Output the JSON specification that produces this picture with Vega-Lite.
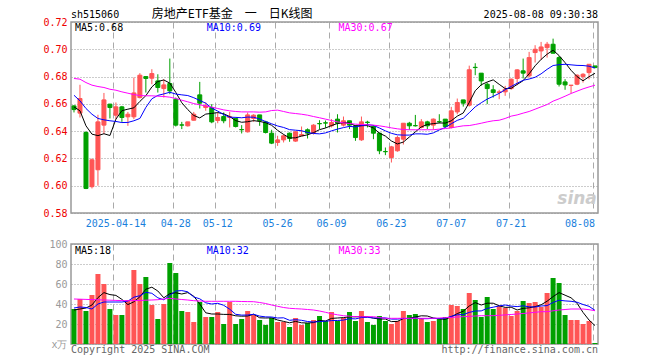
{
"$schema": "https://vega.github.io/schema/vega-lite/v6.json",
"background": "white",
"padding": {"left": 42, "top": 7, "right": 0, "bottom": 0},
"spacing": 9,
"config": {"view": {"stroke": "#999999", "strokeWidth": 1.5}, "axis": {"labelOverlap": false}},
"datasets": {"k": [
{"d":"2025-04-02","o":0.6585,"h":0.659,"l":0.6537,"c":0.6558,"v":35,"m5":0.6578,"m10":0.6663,"m30":0.6786,"vm5":34,"vm10":36,"vm30":45},
{"d":"2025-04-03","o":0.6532,"h":0.674,"l":0.65,"c":0.6639,"v":45,"m5":0.6549,"m10":0.6622,"m30":0.6781,"vm5":35,"vm10":37,"vm30":44.8},
{"d":"2025-04-07","o":0.639,"h":0.64,"l":0.5975,"c":0.598,"v":33,"m5":0.6439,"m10":0.6566,"m30":0.6756,"vm5":36,"vm10":36.5,"vm30":44.6},
{"d":"2025-04-08","o":0.5993,"h":0.62,"l":0.598,"c":0.619,"v":49,"m5":0.6378,"m10":0.6524,"m30":0.6737,"vm5":39,"vm10":35,"vm30":44.4},
{"d":"2025-04-09","o":0.6117,"h":0.652,"l":0.6,"c":0.6468,"v":70,"m5":0.6367,"m10":0.6493,"m30":0.6727,"vm5":46.4,"vm10":40,"vm30":44.2},
{"d":"2025-04-10","o":0.6444,"h":0.668,"l":0.638,"c":0.6629,"v":60,"m5":0.6381,"m10":0.6483,"m30":0.672,"vm5":51.4,"vm10":42,"vm30":44},
{"d":"2025-04-11","o":0.6598,"h":0.66,"l":0.6493,"c":0.6573,"v":35,"m5":0.6368,"m10":0.6476,"m30":0.6707,"vm5":49.4,"vm10":42,"vm30":43.8},
{"d":"2025-04-14","o":0.6517,"h":0.661,"l":0.6488,"c":0.6578,"v":29,"m5":0.6488,"m10":0.6471,"m30":0.67,"vm5":48.6,"vm10":42,"vm30":43.6},
{"d":"2025-04-15","o":0.6578,"h":0.6585,"l":0.6468,"c":0.65,"v":29,"m5":0.655,"m10":0.6463,"m30":0.6688,"vm5":44.6,"vm10":42,"vm30":43.4},
{"d":"2025-04-16","o":0.6505,"h":0.6541,"l":0.6439,"c":0.6524,"v":44,"m5":0.6561,"m10":0.6464,"m30":0.6678,"vm5":39.4,"vm10":42.9,"vm30":43.3},
{"d":"2025-04-17","o":0.6505,"h":0.6793,"l":0.6488,"c":0.668,"v":74,"m5":0.6571,"m10":0.6476,"m30":0.6668,"vm5":42.2,"vm10":46.8,"vm30":43.4},
{"d":"2025-04-18","o":0.6646,"h":0.6825,"l":0.664,"c":0.681,"v":60,"m5":0.6618,"m10":0.6493,"m30":0.6661,"vm5":47.2,"vm10":48.3,"vm30":43.5},
{"d":"2025-04-21","o":0.68,"h":0.68,"l":0.6683,"c":0.6786,"v":67,"m5":0.666,"m10":0.6574,"m30":0.6659,"vm5":54.8,"vm10":51.7,"vm30":43.8},
{"d":"2025-04-22","o":0.6788,"h":0.6854,"l":0.6744,"c":0.6822,"v":39,"m5":0.6724,"m10":0.6637,"m30":0.6659,"vm5":56.8,"vm10":50.7,"vm30":44},
{"d":"2025-04-23","o":0.6768,"h":0.6817,"l":0.6683,"c":0.672,"v":25,"m5":0.6764,"m10":0.6662,"m30":0.6656,"vm5":53,"vm10":46.2,"vm30":44.3},
{"d":"2025-04-24","o":0.6712,"h":0.678,"l":0.6646,"c":0.6739,"v":40,"m5":0.6775,"m10":0.6673,"m30":0.6654,"vm5":46.2,"vm10":44.2,"vm30":45},
{"d":"2025-04-25","o":0.6749,"h":0.6932,"l":0.6671,"c":0.6695,"v":81,"m5":0.6752,"m10":0.6685,"m30":0.6649,"vm5":50.4,"vm10":48.8,"vm30":45.7},
{"d":"2025-04-28","o":0.6634,"h":0.6646,"l":0.6434,"c":0.6444,"v":71,"m5":0.6684,"m10":0.6672,"m30":0.6639,"vm5":51.2,"vm10":53,"vm30":45},
{"d":"2025-04-29","o":0.6446,"h":0.6468,"l":0.6415,"c":0.6444,"v":33,"m5":0.6608,"m10":0.6666,"m30":0.6627,"vm5":50,"vm10":53.4,"vm30":44.5},
{"d":"2025-04-30","o":0.6439,"h":0.6468,"l":0.6434,"c":0.6468,"v":32,"m5":0.6558,"m10":0.6661,"m30":0.6615,"vm5":51.4,"vm10":52.2,"vm30":44},
{"d":"2025-05-06","o":0.648,"h":0.6541,"l":0.6478,"c":0.6524,"v":22,"m5":0.6515,"m10":0.6645,"m30":0.6602,"vm5":47.8,"vm10":47,"vm30":43.3},
{"d":"2025-05-07","o":0.6666,"h":0.6761,"l":0.6566,"c":0.6605,"v":42,"m5":0.6497,"m10":0.6625,"m30":0.6593,"vm5":40,"vm10":45.2,"vm30":43},
{"d":"2025-05-08","o":0.6573,"h":0.661,"l":0.6549,"c":0.6585,"v":27,"m5":0.6525,"m10":0.6605,"m30":0.6585,"vm5":31.2,"vm10":41.2,"vm30":42.7},
{"d":"2025-05-09","o":0.6573,"h":0.6598,"l":0.6458,"c":0.6468,"v":27,"m5":0.653,"m10":0.6569,"m30":0.6576,"vm5":30,"vm10":40,"vm30":42.7},
{"d":"2025-05-12","o":0.6478,"h":0.6537,"l":0.6458,"c":0.65,"v":32,"m5":0.6536,"m10":0.6547,"m30":0.6566,"vm5":30,"vm10":40.7,"vm30":42.7},
{"d":"2025-05-13","o":0.6507,"h":0.6537,"l":0.6458,"c":0.6476,"v":20,"m5":0.6527,"m10":0.6521,"m30":0.6556,"vm5":29.6,"vm10":38.7,"vm30":42.7},
{"d":"2025-05-14","o":0.65,"h":0.6541,"l":0.6427,"c":0.6507,"v":42,"m5":0.6507,"m10":0.6502,"m30":0.6549,"vm5":29.6,"vm10":34.8,"vm30":42.7},
{"d":"2025-05-15","o":0.6493,"h":0.65,"l":0.6427,"c":0.6434,"v":20,"m5":0.6477,"m10":0.6501,"m30":0.6544,"vm5":28.2,"vm10":29.7,"vm30":42.7},
{"d":"2025-05-16","o":0.6412,"h":0.6444,"l":0.6383,"c":0.641,"v":25,"m5":0.6465,"m10":0.6498,"m30":0.6541,"vm5":27.8,"vm10":28.9,"vm30":42.5},
{"d":"2025-05-19","o":0.6395,"h":0.6537,"l":0.639,"c":0.6519,"v":33,"m5":0.6469,"m10":0.6503,"m30":0.6541,"vm5":28,"vm10":29,"vm30":42.4},
{"d":"2025-05-20","o":0.6493,"h":0.6524,"l":0.6468,"c":0.6517,"v":29,"m5":0.6477,"m10":0.6502,"m30":0.6541,"vm5":29.8,"vm10":29.7,"vm30":42.3},
{"d":"2025-05-21","o":0.6519,"h":0.6519,"l":0.6439,"c":0.6476,"v":24,"m5":0.6471,"m10":0.6489,"m30":0.6539,"vm5":26.2,"vm10":27.9,"vm30":41.5},
{"d":"2025-05-22","o":0.6468,"h":0.6476,"l":0.6383,"c":0.639,"v":19,"m5":0.6462,"m10":0.647,"m30":0.6541,"vm5":26,"vm10":27.1,"vm30":40.5},
{"d":"2025-05-23","o":0.6385,"h":0.641,"l":0.6305,"c":0.6312,"v":26,"m5":0.6443,"m10":0.6454,"m30":0.6551,"vm5":26.2,"vm10":27,"vm30":39},
{"d":"2025-05-26","o":0.6317,"h":0.6366,"l":0.6292,"c":0.6336,"v":22,"m5":0.6406,"m10":0.6438,"m30":0.6554,"vm5":24,"vm10":26,"vm30":37.7},
{"d":"2025-05-27","o":0.6336,"h":0.6375,"l":0.6317,"c":0.6366,"v":22,"m5":0.6376,"m10":0.6427,"m30":0.6544,"vm5":22.6,"vm10":26.2,"vm30":36.5},
{"d":"2025-05-28","o":0.6385,"h":0.639,"l":0.6322,"c":0.6346,"v":17,"m5":0.635,"m10":0.6411,"m30":0.6534,"vm5":21.2,"vm10":23.7,"vm30":35.7},
{"d":"2025-05-29","o":0.6327,"h":0.64,"l":0.6322,"c":0.6395,"v":26,"m5":0.6351,"m10":0.6407,"m30":0.6529,"vm5":22.6,"vm10":24.3,"vm30":35.3},
{"d":"2025-05-30","o":0.6366,"h":0.6434,"l":0.6366,"c":0.6375,"v":19,"m5":0.6364,"m10":0.6403,"m30":0.6524,"vm5":21.2,"vm10":23.7,"vm30":35},
{"d":"2025-06-03","o":0.641,"h":0.642,"l":0.6346,"c":0.6385,"v":21,"m5":0.6373,"m10":0.639,"m30":0.6517,"vm5":21,"vm10":22.5,"vm30":34.5},
{"d":"2025-06-04","o":0.6385,"h":0.6451,"l":0.6375,"c":0.6444,"v":24,"m5":0.6389,"m10":0.6383,"m30":0.6507,"vm5":21.4,"vm10":22,"vm30":34},
{"d":"2025-06-05","o":0.6456,"h":0.648,"l":0.6415,"c":0.6454,"v":28,"m5":0.6411,"m10":0.638,"m30":0.6498,"vm5":23.6,"vm10":22.4,"vm30":33},
{"d":"2025-06-06","o":0.6461,"h":0.6478,"l":0.6424,"c":0.6459,"v":23,"m5":0.6423,"m10":0.6387,"m30":0.6488,"vm5":23,"vm10":22.8,"vm30":31.7},
{"d":"2025-06-09","o":0.6439,"h":0.6488,"l":0.6427,"c":0.6463,"v":32,"m5":0.6441,"m10":0.6402,"m30":0.6478,"vm5":25.6,"vm10":23.4,"vm30":30.3},
{"d":"2025-06-10","o":0.6488,"h":0.6524,"l":0.639,"c":0.6458,"v":23,"m5":0.6456,"m10":0.6415,"m30":0.6468,"vm5":26,"vm10":23.5,"vm30":29.2},
{"d":"2025-06-11","o":0.6444,"h":0.6507,"l":0.6434,"c":0.6476,"v":26,"m5":0.6462,"m10":0.6426,"m30":0.6461,"vm5":26.4,"vm10":23.9,"vm30":28.3},
{"d":"2025-06-12","o":0.6476,"h":0.6476,"l":0.6415,"c":0.6444,"v":32,"m5":0.646,"m10":0.6435,"m30":0.6456,"vm5":27.2,"vm10":25.4,"vm30":27.8},
{"d":"2025-06-13","o":0.6439,"h":0.6444,"l":0.6329,"c":0.6353,"v":23,"m5":0.6439,"m10":0.6431,"m30":0.6451,"vm5":27.2,"vm10":25.1,"vm30":27.3},
{"d":"2025-06-16","o":0.6336,"h":0.6507,"l":0.6329,"c":0.6468,"v":33,"m5":0.644,"m10":0.644,"m30":0.6449,"vm5":27.4,"vm10":26.5,"vm30":27.3},
{"d":"2025-06-17","o":0.6466,"h":0.6476,"l":0.6427,"c":0.6463,"v":22,"m5":0.6441,"m10":0.6448,"m30":0.6446,"vm5":27.2,"vm10":26.6,"vm30":27.3},
{"d":"2025-06-18","o":0.6434,"h":0.6444,"l":0.6341,"c":0.6385,"v":19,"m5":0.6423,"m10":0.6442,"m30":0.6444,"vm5":25.8,"vm10":26.1,"vm30":27.3},
{"d":"2025-06-19","o":0.6385,"h":0.639,"l":0.6231,"c":0.6256,"v":28,"m5":0.6385,"m10":0.6423,"m30":0.6439,"vm5":25,"vm10":26.1,"vm30":26.5},
{"d":"2025-06-20","o":0.6251,"h":0.628,"l":0.6224,"c":0.6249,"v":23,"m5":0.6364,"m10":0.6402,"m30":0.6432,"vm5":25,"vm10":26.1,"vm30":25.7},
{"d":"2025-06-23","o":0.6207,"h":0.6292,"l":0.617,"c":0.6285,"v":20,"m5":0.6328,"m10":0.6384,"m30":0.6424,"vm5":22.4,"vm10":24.9,"vm30":25.7},
{"d":"2025-06-24","o":0.6256,"h":0.6366,"l":0.6249,"c":0.6353,"v":23,"m5":0.6306,"m10":0.6373,"m30":0.6417,"vm5":22.6,"vm10":24.9,"vm30":25.7},
{"d":"2025-06-25","o":0.6341,"h":0.6458,"l":0.6302,"c":0.6458,"v":33,"m5":0.632,"m10":0.6371,"m30":0.6412,"vm5":25.4,"vm10":25.6,"vm30":25.7},
{"d":"2025-06-26","o":0.6458,"h":0.6468,"l":0.641,"c":0.6439,"v":29,"m5":0.6357,"m10":0.6371,"m30":0.641,"vm5":25.6,"vm10":25.3,"vm30":25.7},
{"d":"2025-06-27","o":0.6441,"h":0.6519,"l":0.6434,"c":0.6439,"v":30,"m5":0.6395,"m10":0.638,"m30":0.641,"vm5":27,"vm10":26,"vm30":25.7},
{"d":"2025-06-30","o":0.6427,"h":0.6488,"l":0.642,"c":0.6468,"v":26,"m5":0.6431,"m10":0.638,"m30":0.641,"vm5":28.2,"vm10":25.3,"vm30":25.7},
{"d":"2025-07-01","o":0.6468,"h":0.6476,"l":0.6415,"c":0.6439,"v":22,"m5":0.6449,"m10":0.6377,"m30":0.641,"vm5":28,"vm10":25.3,"vm30":25.7},
{"d":"2025-07-02","o":0.6444,"h":0.6493,"l":0.641,"c":0.6488,"v":23,"m5":0.6455,"m10":0.6387,"m30":0.641,"vm5":26,"vm10":25.7,"vm30":25.7},
{"d":"2025-07-03","o":0.647,"h":0.6524,"l":0.6458,"c":0.6468,"v":25,"m5":0.646,"m10":0.6409,"m30":0.6415,"vm5":25.2,"vm10":25.4,"vm30":26},
{"d":"2025-07-04","o":0.6488,"h":0.6488,"l":0.6427,"c":0.6434,"v":27,"m5":0.6459,"m10":0.6427,"m30":0.6419,"vm5":24.6,"vm10":25.8,"vm30":26.3},
{"d":"2025-07-07","o":0.6427,"h":0.6578,"l":0.642,"c":0.6549,"v":39,"m5":0.6476,"m10":0.6454,"m30":0.6424,"vm5":27.2,"vm10":27.7,"vm30":26.6},
{"d":"2025-07-08","o":0.6541,"h":0.6639,"l":0.6524,"c":0.661,"v":38,"m5":0.651,"m10":0.6479,"m30":0.6432,"vm5":30.4,"vm10":29.2,"vm30":27},
{"d":"2025-07-09","o":0.6629,"h":0.6629,"l":0.658,"c":0.6605,"v":35,"m5":0.6533,"m10":0.6494,"m30":0.6439,"vm5":32.8,"vm10":29.4,"vm30":27.3},
{"d":"2025-07-10","o":0.659,"h":0.688,"l":0.658,"c":0.685,"v":51,"m5":0.661,"m10":0.6535,"m30":0.6441,"vm5":38,"vm10":31.6,"vm30":27.6},
{"d":"2025-07-11","o":0.6868,"h":0.6898,"l":0.681,"c":0.6866,"v":44,"m5":0.6696,"m10":0.6578,"m30":0.6449,"vm5":41.4,"vm10":33,"vm30":28},
{"d":"2025-07-14","o":0.6825,"h":0.6825,"l":0.6732,"c":0.6768,"v":27,"m5":0.674,"m10":0.6608,"m30":0.6458,"vm5":39,"vm10":33.1,"vm30":28.3},
{"d":"2025-07-15","o":0.6744,"h":0.6756,"l":0.6598,"c":0.6712,"v":47,"m5":0.676,"m10":0.6635,"m30":0.6468,"vm5":40.8,"vm10":35.6,"vm30":28.3},
{"d":"2025-07-16","o":0.6703,"h":0.6737,"l":0.6646,"c":0.6683,"v":35,"m5":0.6776,"m10":0.6655,"m30":0.6476,"vm5":40.8,"vm10":36.8,"vm30":28.3},
{"d":"2025-07-17","o":0.6683,"h":0.6703,"l":0.6634,"c":0.6688,"v":38,"m5":0.6743,"m10":0.6677,"m30":0.648,"vm5":38.2,"vm10":38.1,"vm30":28.7},
{"d":"2025-07-18","o":0.6688,"h":0.6732,"l":0.6659,"c":0.6707,"v":36,"m5":0.6712,"m10":0.6704,"m30":0.6493,"vm5":36.6,"vm10":39,"vm30":29.1},
{"d":"2025-07-21","o":0.6712,"h":0.6786,"l":0.6703,"c":0.6781,"v":28,"m5":0.6714,"m10":0.6727,"m30":0.651,"vm5":36.8,"vm10":37.9,"vm30":29.5},
{"d":"2025-07-22","o":0.6786,"h":0.6854,"l":0.6737,"c":0.6849,"v":33,"m5":0.6742,"m10":0.6751,"m30":0.6519,"vm5":34,"vm10":37.4,"vm30":30},
{"d":"2025-07-23","o":0.6842,"h":0.6932,"l":0.6786,"c":0.6825,"v":43,"m5":0.677,"m10":0.6773,"m30":0.6532,"vm5":35.6,"vm10":38.2,"vm30":30.5},
{"d":"2025-07-24","o":0.6805,"h":0.6981,"l":0.6793,"c":0.6939,"v":41,"m5":0.682,"m10":0.6782,"m30":0.6544,"vm5":36.2,"vm10":37.2,"vm30":31.1},
{"d":"2025-07-25","o":0.6976,"h":0.703,"l":0.6903,"c":0.7,"v":42,"m5":0.6879,"m10":0.6795,"m30":0.6561,"vm5":37.4,"vm10":37,"vm30":31.7},
{"d":"2025-07-28","o":0.6988,"h":0.7054,"l":0.6922,"c":0.7017,"v":37,"m5":0.6926,"m10":0.682,"m30":0.6578,"vm5":39.2,"vm10":38,"vm30":32.3},
{"d":"2025-07-29","o":0.7012,"h":0.7054,"l":0.6939,"c":0.7037,"v":51,"m5":0.6964,"m10":0.6853,"m30":0.6595,"vm5":42.8,"vm10":38.4,"vm30":32.3},
{"d":"2025-07-30","o":0.7037,"h":0.7078,"l":0.6971,"c":0.6971,"v":66,"m5":0.6993,"m10":0.6881,"m30":0.662,"vm5":47.4,"vm10":41.5,"vm30":33.2},
{"d":"2025-07-31","o":0.6939,"h":0.6951,"l":0.6727,"c":0.6744,"v":61,"m5":0.6954,"m10":0.6887,"m30":0.6637,"vm5":51.4,"vm10":43.8,"vm30":34},
{"d":"2025-08-01","o":0.6761,"h":0.6781,"l":0.6703,"c":0.6739,"v":29,"m5":0.6902,"m10":0.689,"m30":0.6656,"vm5":48.8,"vm10":43.1,"vm30":34.5},
{"d":"2025-08-04","o":0.6735,"h":0.6737,"l":0.6678,"c":0.6737,"v":24,"m5":0.6846,"m10":0.6886,"m30":0.6676,"vm5":46.2,"vm10":42.7,"vm30":35},
{"d":"2025-08-05","o":0.6744,"h":0.6817,"l":0.6737,"c":0.681,"v":24,"m5":0.68,"m10":0.6882,"m30":0.6693,"vm5":40.8,"vm10":41.8,"vm30":35},
{"d":"2025-08-06","o":0.68,"h":0.6825,"l":0.6756,"c":0.6817,"v":20,"m5":0.6769,"m10":0.6881,"m30":0.671,"vm5":31.6,"vm10":39.5,"vm30":35},
{"d":"2025-08-07","o":0.6829,"h":0.689,"l":0.678,"c":0.689,"v":23,"m5":0.6799,"m10":0.6876,"m30":0.6724,"vm5":24,"vm10":37.7,"vm30":34.3},
{"d":"2025-08-08","o":0.6878,"h":0.6878,"l":0.6861,"c":0.6866,"v":1,"m5":0.6824,"m10":0.6863,"m30":0.6737,"vm5":18.4,"vm10":33.6,"vm30":33.3}
]},
"vconcat": [
{
"width": 527, "height": 191,
"data": {"name": "k"},
"encoding": {"x": {"field": "d", "type": "ordinal", "scale": {"paddingInner": 0, "paddingOuter": 0},
  "axis": {"values": ["2025-04-14","2025-04-28","2025-05-12","2025-05-26","2025-06-09","2025-06-23","2025-07-07","2025-07-21","2025-08-08"],
    "bandPosition": 0.17, "labelExpr": "datum.value == '2025-04-14' ? datum.value : slice(datum.value, 5)",
    "labelAlign": {"condition": {"test": "datum.value == '2025-08-08'", "value": "right"}, "value": "center"},
    "labelAngle": 0, "title": null, "ticks": false, "domain": false, "labelColor": "#1a7fdc", "labelFont": "DejaVu Sans Mono", "labelFontSize": 10, "labelPadding": 5,
    "grid": true, "gridColor": "#aaaaaa", "gridDash": [6, 4], "labelOverlap": false}}},
"layer": [
  {"mark": {"type": "rule", "strokeWidth": 1},
   "encoding": {"y": {"field": "l", "type": "quantitative", "scale": {"domain": [0.58, 0.72], "nice": false, "zero": false},
       "axis": {"values": [0.58,0.6,0.62,0.64,0.66,0.68,0.7,0.72], "tickCount": 20, "format": ".2f", "title": null, "ticks": false, "domain": false,
         "labelColor": "#ee0000", "labelFont": "DejaVu Sans Mono", "labelFontSize": 10, "labelPadding": 4, "labelFlush": false, "labelOverlap": false,
         "grid": true, "gridColor": "#999999", "gridDash": [1, 2]}},
     "y2": {"field": "h"},
     "color": {"condition": {"test": "datum.c >= datum.o", "value": "#ff5555"}, "value": "#00a000"}}},
  {"mark": {"type": "bar", "width": 4, "strokeWidth": 1},
   "encoding": {"y": {"field": "o", "type": "quantitative"}, "y2": {"field": "c"},
     "fill": {"condition": {"test": "datum.c >= datum.o", "value": "#ff5555"}, "value": "#00a000"},
     "stroke": {"condition": {"test": "datum.c >= datum.o", "value": "#ff5555"}, "value": "#00a000"}}},
  {"mark": {"type": "line", "strokeWidth": 1, "color": "#000000"}, "encoding": {"y": {"field": "m5", "type": "quantitative"}}},
  {"mark": {"type": "line", "strokeWidth": 1, "color": "#0000ff"}, "encoding": {"y": {"field": "m10", "type": "quantitative"}}},
  {"mark": {"type": "line", "strokeWidth": 1, "color": "#ff00ff"}, "encoding": {"y": {"field": "m30", "type": "quantitative"}}},
  {"data": {"values": [{"d": "2025-04-02", "s": "MA5", "t": "MA5:0.68"}, {"d": "2025-05-08", "s": "MA10", "t": "MA10:0.69"}, {"d": "2025-06-10", "s": "MA30", "t": "MA30:0.67"}]},
   "mark": {"type": "text", "align": "left", "baseline": "alphabetic", "font": "DejaVu Sans Mono", "fontSize": 10, "dx": 1},
   "encoding": {"y": {"datum": 0.71355, "type": "quantitative"}, "text": {"field": "t"},
     "color": {"field": "s", "type": "nominal", "scale": {"domain": ["MA5", "MA10", "MA30"], "range": ["#000000", "#0000ff", "#ff00ff"]}, "legend": null}}},
  {"data": {"values": [{"d": "2025-04-02", "t": "sh515060"}]},
   "mark": {"type": "text", "align": "left", "baseline": "alphabetic", "font": "DejaVu Sans Mono", "fontSize": 10, "color": "#000000"},
   "encoding": {"x": {"field": "d", "type": "ordinal", "bandPosition": 0}, "y": {"datum": 0.7229, "type": "quantitative"}, "text": {"field": "t"}}},
  {"data": {"values": [{"d": "2025-04-22", "t": "房地产ETF基金　一　日K线图"}]},
   "mark": {"type": "text", "align": "left", "baseline": "alphabetic", "font": "Noto Sans CJK SC", "fontSize": 12, "color": "#000000"},
   "encoding": {"y": {"datum": 0.7231, "type": "quantitative"}, "text": {"field": "t"}}},
  {"data": {"values": [{"d": "2025-08-08", "t": "2025-08-08 09:30:38"}]},
   "mark": {"type": "text", "align": "right", "baseline": "alphabetic", "font": "DejaVu Sans Mono", "fontSize": 10, "color": "#000000"},
   "encoding": {"x": {"field": "d", "type": "ordinal", "bandPosition": 1}, "y": {"datum": 0.7231, "type": "quantitative"}, "text": {"field": "t"}}},
  {"data": {"values": [{"d": "2025-08-05", "t": "sina"}]},
   "mark": {"type": "text", "align": "center", "baseline": "alphabetic", "font": "DejaVu Sans", "fontSize": 17, "fontStyle": "italic", "fontWeight": "bold", "color": "#cccccc"},
   "encoding": {"y": {"datum": 0.5865, "type": "quantitative"}, "text": {"field": "t"}}}
]
},
{
"width": 527, "height": 100,
"data": {"name": "k"},
"encoding": {"x": {"field": "d", "type": "ordinal", "scale": {"paddingInner": 0, "paddingOuter": 0},
  "axis": {"values": ["2025-04-14","2025-04-28","2025-05-12","2025-05-26","2025-06-09","2025-06-23","2025-07-07","2025-07-21","2025-08-08"],
    "bandPosition": 0.17, "labels": false, "title": null, "ticks": false, "domain": false,
    "grid": true, "gridColor": "#aaaaaa", "gridDash": [6, 4]}}},
"layer": [
  {"mark": {"type": "bar", "width": 5},
   "encoding": {"y": {"field": "v", "type": "quantitative", "scale": {"domain": [0, 100], "nice": false},
       "axis": {"values": [0, 20, 40, 60, 80, 100], "tickCount": 20, "labelExpr": "datum.value == 0 ? 'x万' : datum.label", "title": null, "ticks": false, "domain": false,
         "labelColor": "#999999", "labelFont": "DejaVu Sans Mono", "labelFontSize": 10, "labelPadding": 4, "labelFlush": false, "labelOverlap": false,
         "grid": true, "gridColor": "#999999", "gridDash": [1, 2]}},
     "color": {"condition": {"test": "datum.c >= datum.o", "value": "#ff5555"}, "value": "#00a000"}}},
  {"mark": {"type": "line", "strokeWidth": 1, "color": "#000000"}, "encoding": {"y": {"field": "vm5", "type": "quantitative"}}},
  {"mark": {"type": "line", "strokeWidth": 1, "color": "#0000ff"}, "encoding": {"y": {"field": "vm10", "type": "quantitative"}}},
  {"mark": {"type": "line", "strokeWidth": 1, "color": "#ff00ff"}, "encoding": {"y": {"field": "vm30", "type": "quantitative"}}},
  {"data": {"values": [{"d": "2025-04-02", "s": "MA5", "t": "MA5:18"}, {"d": "2025-05-08", "s": "MA10", "t": "MA10:32"}, {"d": "2025-06-10", "s": "MA30", "t": "MA30:33"}]},
   "mark": {"type": "text", "align": "left", "baseline": "alphabetic", "font": "DejaVu Sans Mono", "fontSize": 10, "dx": 1},
   "encoding": {"y": {"datum": 90.3, "type": "quantitative"}, "text": {"field": "t"},
     "color": {"field": "s", "type": "nominal", "scale": {"domain": ["MA5", "MA10", "MA30"], "range": ["#000000", "#0000ff", "#ff00ff"]}, "legend": null}}},
  {"data": {"values": [{"d": "2025-04-02", "t": "Copyright 2025 SINA.COM"}]},
   "mark": {"type": "text", "align": "left", "baseline": "alphabetic", "font": "DejaVu Sans Mono", "fontSize": 10, "color": "#666666"},
   "encoding": {"x": {"field": "d", "type": "ordinal", "bandPosition": 0}, "y": {"datum": -8.7, "type": "quantitative"}, "text": {"field": "t"}}},
  {"data": {"values": [{"d": "2025-08-08", "t": "http://finance.sina.com.cn"}]},
   "mark": {"type": "text", "align": "right", "baseline": "alphabetic", "font": "DejaVu Sans Mono", "fontSize": 10, "color": "#666666"},
   "encoding": {"x": {"field": "d", "type": "ordinal", "bandPosition": 1}, "y": {"datum": -8.7, "type": "quantitative"}, "text": {"field": "t"}}}
]
}
]
}
